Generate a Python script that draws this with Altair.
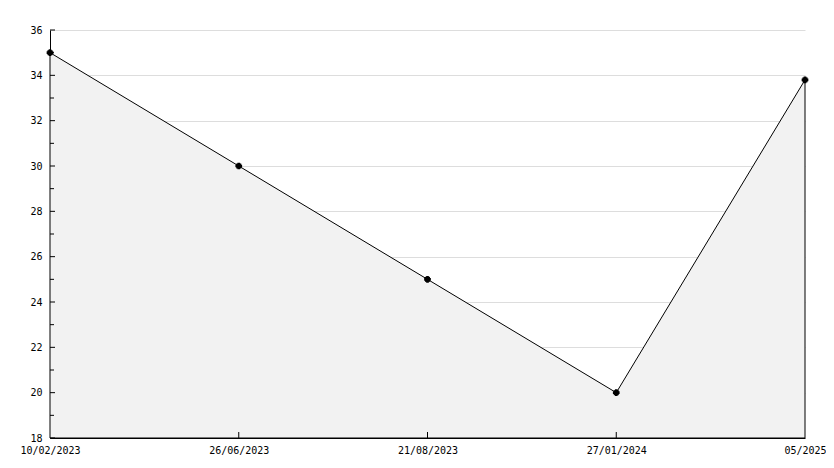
import altair as alt
import pandas as pd

dates = ["10/02/2023", "26/06/2023", "21/08/2023", "27/01/2024", "05/2025"]
values = [35, 30, 25, 20, 33.8]
major_y = [18, 20, 22, 24, 26, 28, 30, 32, 34, 36]
minor_y = [19, 21, 23, 25, 27, 29, 31, 33, 35]
inner_x_ticks = ["26/06/2023", "21/08/2023", "27/01/2024"]

df = pd.DataFrame({"date": dates, "value": values})
df_major = pd.DataFrame({"y": major_y})
df_minor = pd.DataFrame({"y": minor_y})
df_xt = pd.DataFrame({"date": inner_x_ticks})

FONT = "DejaVu Sans Mono"

xscale = alt.Scale(type="point", domain=dates, padding=0)
yscale = alt.Scale(domain=[18, 36], nice=False, zero=False)

x_enc = alt.X("date:N", scale=xscale, sort=dates, title=None,
              axis=alt.Axis(labelAngle=0, tickSize=0, labelPadding=7, domainColor="black",
                            domainWidth=1, grid=False, labelFont=FONT, labelFontSize=10,
                            labelColor="black", labelBaseline="top", labelBound=False,
                            labelOverlap=False))
y_enc = alt.Y("value:Q", scale=yscale, title=None,
              axis=alt.Axis(values=major_y, tickSize=0, labelPadding=8, domainColor="black",
                            grid=True, gridColor="#dddddd", gridWidth=1,
                            labelFont=FONT, labelFontSize=10, labelColor="black"))

area = alt.Chart(df).mark_area(color="#f2f2f2", stroke="black", strokeWidth=1, line=False).encode(
    x=x_enc, y=y_enc, y2=alt.datum(18)
)

pts = alt.Chart(df).mark_point(shape="square", filled=True, color="black", size=25, opacity=1).encode(
    x=alt.X("date:N", scale=xscale, sort=dates), y=alt.Y("value:Q", scale=yscale)
)
pts2 = alt.Chart(df).mark_point(shape="cross", filled=True, color="black", size=45, opacity=1).encode(
    x=alt.X("date:N", scale=xscale, sort=dates), y=alt.Y("value:Q", scale=yscale)
)

ymaj = alt.Chart(df_major).mark_rule(color="black", strokeWidth=1).encode(
    y=alt.Y("y:Q", scale=yscale), x=alt.value(0), x2=alt.value(5)
)
ymin = alt.Chart(df_minor).mark_rule(color="black", strokeWidth=1).encode(
    y=alt.Y("y:Q", scale=yscale), x=alt.value(0), x2=alt.value(4)
)
xt = alt.Chart(df_xt).mark_rule(color="black", strokeWidth=1).encode(
    x=alt.X("date:N", scale=xscale, sort=dates), y=alt.value(408), y2=alt.value(402)
)

chart = alt.layer(area, ymaj, ymin, xt, pts, pts2).properties(
    width=755, height=408,
    autosize=alt.AutoSizeParams(type="none"),
    padding={"left": 42, "top": 22, "right": 21, "bottom": 20},
    background="white",
).configure_view(stroke=None)

chart.save("out.html", embed_options={"renderer": "svg", "actions": False})
